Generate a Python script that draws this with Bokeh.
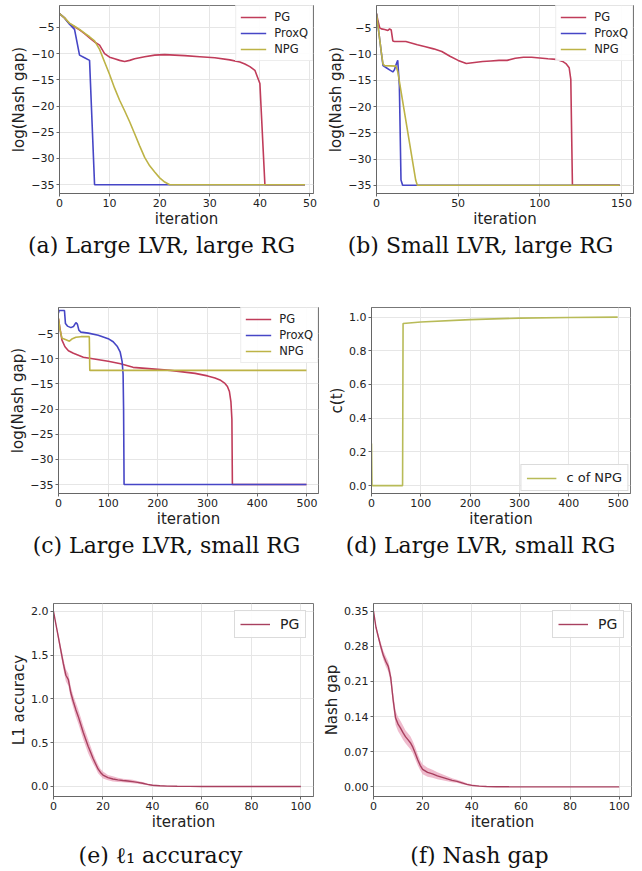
from bokeh.plotting import figure
from bokeh.layouts import column, row
from bokeh.models import Range1d, FixedTicker, Label
from bokeh.embed import file_html
from bokeh.resources import INLINE

# ---------------- data ----------------
# (a) Large LVR, large RG
a_pg_x = [0, 1, 2, 3, 4, 5, 6, 7, 8, 9, 10, 11, 12, 13, 14, 15, 17, 19, 21, 23, 25, 28, 31, 34, 36, 37, 38, 39, 40, 41, 49]
a_pg_y = [-2.4, -3.2, -4.3, -4.9, -5.5, -6.2, -7.0, -7.8, -8.4, -10.0, -10.7, -11.0, -11.3, -11.5, -11.3, -11.0,
          -10.6, -10.3, -10.2, -10.3, -10.4, -10.6, -10.8, -11.2, -11.6, -12.0, -12.5, -13.2, -15.7, -35.0, -35.0]
a_proxq_x = [0, 1, 2, 3, 4, 5, 6, 7, 49]
a_proxq_y = [-2.4, -3.2, -4.4, -5.4, -10.3, -10.8, -11.3, -35.0, -35.0]
a_npg_x = [0, 1, 2, 3, 4, 5, 6, 7, 8, 9, 10, 11, 12, 13, 14, 15, 16, 17, 18, 19, 20, 21, 22, 49]
a_npg_y = [-2.4, -3.2, -4.2, -4.8, -5.4, -6.1, -6.8, -7.6, -9.2, -11.6, -14.0, -16.6, -18.9, -20.9, -23.0, -25.3,
           -27.6, -29.8, -31.4, -32.6, -33.7, -34.5, -35.0, -35.0]

# (b) Small LVR, large RG
b_pg_x = [0, 1, 2, 3, 5, 7, 8, 9, 10, 11, 18, 25, 30, 35, 40, 45, 50, 55, 60, 65, 70, 75, 80, 85, 90, 95, 100,
          105, 110, 114, 116, 118, 119, 120, 149]
b_pg_y = [-2.3, -3.8, -5.0, -5.2, -5.3, -5.5, -5.2, -5.4, -7.5, -7.6, -7.6, -8.2, -8.6, -9.0, -9.5, -10.4, -11.2,
          -11.8, -11.6, -11.4, -11.3, -11.2, -11.2, -10.8, -10.6, -10.6, -10.75, -10.9, -11.0, -11.4, -11.8, -12.6,
          -14.8, -35.0, -35.0]
b_proxq_x = [0, 1, 2, 3, 4, 6, 8, 10, 11, 12, 13, 14, 15, 16, 149]
b_proxq_y = [-2.3, -4.8, -7.3, -9.8, -12.2, -12.6, -13.0, -13.4, -13.0, -12.0, -11.2, -16.0, -34.0, -35.0, -35.0]
b_npg_x = [0, 1, 2, 3, 4, 5, 12, 13, 24, 25, 149]
b_npg_y = [-2.3, -4.8, -7.3, -9.8, -11.9, -12.2, -12.3, -13.3, -34.0, -35.0, -35.0]

# (c) Large LVR, small RG
c_pg_x = [0, 3, 7, 13, 20, 30, 50, 75, 100, 125, 150, 175, 200, 225, 250, 275, 300, 315, 325, 335, 340, 344,
          347, 349, 350, 499]
c_pg_y = [-2.0, -4.0, -6.3, -7.6, -8.4, -8.9, -9.7, -10.1, -10.5, -11.0, -11.7, -11.9, -12.1, -12.3, -12.6, -12.9,
          -13.4, -13.8, -14.2, -14.9, -15.5, -16.5, -18.5, -22.0, -35.0, -35.0]
c_proxq_x = [0, 1, 12, 14, 18, 25, 30, 35, 38, 41, 45, 60, 80, 100, 110, 118, 124, 128, 130, 131, 132, 499]
c_proxq_y = [-0.9, -0.4, -0.4, -3.0, -3.5, -3.8, -3.6, -2.8, -3.1, -4.3, -4.7, -4.9, -5.3, -6.0, -6.6, -7.5, -8.6,
             -10.5, -13.0, -20.0, -35.0, -35.0]
c_npg_x = [0, 3, 7, 10, 15, 22, 28, 35, 45, 62, 63, 499]
c_npg_y = [-2.0, -4.2, -5.9, -6.0, -6.2, -6.5, -6.0, -5.7, -5.6, -5.6, -12.3, -12.3]

# (d) c(t) of NPG
d_x = [0, 1, 63, 64, 100, 200, 300, 400, 499]
d_y = [0.25, 0.0, 0.0, 0.962, 0.971, 0.985, 0.994, 0.998, 1.0]

# (e) l1 accuracy and (f) Nash gap of PG (mean and spread)
ef_x = [0, 1, 2, 3, 4, 5, 6, 7, 8, 9, 10, 11, 12, 13, 14, 15, 16, 17, 18, 19, 20, 22, 24, 26, 28, 30, 32, 34,
        36, 38, 40, 43, 46, 50, 55, 60, 70, 80, 90, 100]
e_mean = [2.0, 1.85, 1.70, 1.55, 1.40, 1.27, 1.22, 1.07, 0.97, 0.88, 0.80, 0.71, 0.62, 0.54, 0.46, 0.39, 0.32,
          0.26, 0.20, 0.16, 0.13, 0.10, 0.085, 0.075, 0.068, 0.062, 0.055, 0.047, 0.036, 0.024, 0.013, 0.007,
          0.004, 0.002, 0.001, 0.0, 0.0, 0.0, 0.0, 0.0]
e_spread = [0.0, 0.02, 0.04, 0.05, 0.06, 0.07, 0.07, 0.07, 0.07, 0.08, 0.08, 0.08, 0.08, 0.08, 0.08, 0.07, 0.06,
            0.05, 0.05, 0.04, 0.04, 0.03, 0.03, 0.025, 0.02, 0.02, 0.02, 0.015, 0.015, 0.01, 0.01, 0.006, 0.004,
            0.002, 0.001, 0.0, 0.0, 0.0, 0.0, 0.0]
f_mean = [0.350, 0.318, 0.298, 0.279, 0.262, 0.250, 0.240, 0.218, 0.173, 0.137, 0.125, 0.117, 0.108, 0.100,
          0.094, 0.088, 0.079, 0.067, 0.054, 0.043, 0.035, 0.029, 0.026, 0.022, 0.019, 0.016, 0.013, 0.011, 0.008,
          0.005, 0.003, 0.0015, 0.0008, 0.0003, 0.0001, 0.0, 0.0, 0.0, 0.0, 0.0]
f_spread = [0.0, 0.004, 0.006, 0.008, 0.009, 0.01, 0.01, 0.012, 0.014, 0.014, 0.014, 0.014, 0.014, 0.013, 0.013,
            0.013, 0.012, 0.012, 0.011, 0.01, 0.01, 0.009, 0.008, 0.007, 0.006, 0.005, 0.004, 0.003, 0.003, 0.002,
            0.002, 0.001, 0.001, 0.0005, 0.0, 0.0, 0.0, 0.0, 0.0, 0.0]

# ticks
log_ticks = [-35, -30, -25, -20, -15, -10, -5]
log_labels = ["\u221235", "\u221230", "\u221225", "\u221220", "\u221215", "\u221210", "\u22125"]
a_xticks = [0, 10, 20, 30, 40, 50]
b_xticks = [0, 50, 100, 150]
cd_xticks = [0, 100, 200, 300, 400, 500]
ef_xticks = [0, 20, 40, 60, 80, 100]
d_yticks = [0.0, 0.2, 0.4, 0.6, 0.8, 1.0]
d_ylabels = ["0.0", "0.2", "0.4", "0.6", "0.8", "1.0"]
e_yticks = [0.0, 0.5, 1.0, 1.5, 2.0]
e_ylabels = ["0.0", "0.5", "1.0", "1.5", "2.0"]
f_yticks = [0.0, 0.07, 0.14, 0.21, 0.28, 0.35]
f_ylabels = ["0.00", "0.07", "0.14", "0.21", "0.28", "0.35"]

captions = ["(a) Large LVR, large RG", "(b) Small LVR, large RG", "(c) Large LVR, small RG",
            "(d) Large LVR, small RG", "(e) \u2113\u2081 accuracy", "(f) Nash gap"]

PG_COLOR = "#c03c5a"
PROXQ_COLOR = "#4646c6"
NPG_COLOR = "#bdb346"
C_COLOR = "#b8bb58"
MEAN_COLOR = "#a8405f"
BAND_COLOR = "#eaa4bc"

W = 320


def make_fig(h, left, right, top, bottom, xr, yr):
    return figure(width=W, height=h, min_border_left=left, min_border_right=right,
                  min_border_top=top, min_border_bottom=bottom,
                  x_range=Range1d(*xr), y_range=Range1d(*yr),
                  output_backend="svg", toolbar_location=None, title=None)


def style(p, xticks, yticks, ylabels, ylabel):
    p.xaxis.ticker = FixedTicker(ticks=xticks)
    p.yaxis.ticker = FixedTicker(ticks=yticks)
    p.xaxis.major_label_overrides = {t: str(t) for t in xticks}
    p.yaxis.major_label_overrides = dict(zip(yticks, ylabels))
    p.xaxis.axis_label = "iteration"
    p.yaxis.axis_label = ylabel
    for ax in (p.xaxis[0], p.yaxis[0]):
        ax.axis_line_color = "#666666"
        ax.major_tick_line_color = "#666666"
        ax.major_tick_out = 3
        ax.major_tick_in = 0
        ax.minor_tick_line_color = None
        ax.major_label_text_font = "DejaVu Sans"
        ax.major_label_text_font_size = "11px"
        ax.major_label_text_color = "#222222"
        ax.major_label_standoff = 2
        ax.axis_label_text_font = "DejaVu Sans"
        ax.axis_label_text_font_size = "15px"
        ax.axis_label_text_font_style = "normal"
        ax.axis_label_text_color = "#222222"
        ax.axis_label_standoff = 0
    p.xgrid.grid_line_color = "#e6e6e6"
    p.ygrid.grid_line_color = "#e6e6e6"
    p.outline_line_color = "#777777"


def style_legend(p, loc, size, glyph_w, margin, padding, standoff, border_alpha):
    lg = p.legend[0]
    lg.location = loc
    lg.margin = margin
    lg.padding = padding
    lg.spacing = 2
    lg.glyph_width = glyph_w
    lg.glyph_height = 14
    lg.label_height = 14
    lg.label_standoff = standoff
    lg.label_text_font = "DejaVu Sans"
    lg.label_text_font_size = size
    lg.label_text_color = "#222222"
    lg.border_line_color = "#cccccc"
    lg.border_line_alpha = border_alpha
    lg.background_fill_alpha = 0.9


def caption_fig(h, text, cx, cy):
    c = figure(width=W, height=h, x_range=Range1d(0, W), y_range=Range1d(0, h),
               x_axis_type=None, y_axis_type=None, min_border=0,
               output_backend="svg", toolbar_location=None, title=None)
    c.outline_line_color = None
    c.add_layout(Label(x=cx, y=cy, x_units="screen", y_units="screen", text=text,
                       text_align="center", text_baseline="middle",
                       text_font="DejaVu Serif", text_font_size="22px", text_color="#111111"))
    return c


LW = 1.6

# (a)
pa = make_fig(231, 59, 7, 1, 38, (0, 50.7), (-36.68, -0.84))
style(pa, a_xticks, log_ticks, log_labels, "log(Nash gap)")
pa.line(a_pg_x, a_pg_y, color=PG_COLOR, line_width=LW, legend_label="PG")
pa.line(a_proxq_x, a_proxq_y, color=PROXQ_COLOR, line_width=LW, legend_label="ProxQ")
pa.line(a_npg_x, a_npg_y, color=NPG_COLOR, line_width=LW, legend_label="NPG")
style_legend(pa, "top_right", "11.5px", 26, 0, 4, 8, 0.35)

# (b)
pb = make_fig(231, 56, 7, 5, 35, (0, 157.4), (-36.56, -0.74))
style(pb, b_xticks, log_ticks, log_labels, "log(Nash gap)")
pb.line(b_pg_x, b_pg_y, color=PG_COLOR, line_width=LW, legend_label="PG")
pb.line(b_proxq_x, b_proxq_y, color=PROXQ_COLOR, line_width=LW, legend_label="ProxQ")
pb.line(b_npg_x, b_npg_y, color=NPG_COLOR, line_width=LW, legend_label="NPG")
style_legend(pb, "top_right", "11.5px", 26, 0, 4, 8, 0.35)

# (c)
pc = make_fig(240, 58, 2, 17, 36, (0, 523.3), (-36.78, 0.2))
style(pc, cd_xticks, log_ticks, log_labels, "log(Nash gap)")
pc.line(c_pg_x, c_pg_y, color=PG_COLOR, line_width=LW, legend_label="PG")
pc.line(c_proxq_x, c_proxq_y, color=PROXQ_COLOR, line_width=LW, legend_label="ProxQ")
pc.line(c_npg_x, c_npg_y, color=NPG_COLOR, line_width=LW, legend_label="NPG")
style_legend(pc, "top_right", "11.5px", 26, 0, 4, 8, 0.35)

# (d)
pd = make_fig(240, 51, 10, 10, 36, (0, 525), (-0.047, 1.057))
style(pd, cd_xticks, d_yticks, d_ylabels, "c(t)")
pd.line(d_x, d_y, color=C_COLOR, line_width=LW, legend_label="c of NPG")
style_legend(pd, "bottom_right", "13px", 30, 2, 5, 10, 0.7)

# (e)
e_lo = [m - s for m, s in zip(e_mean, e_spread)]
e_hi = [m + s for m, s in zip(e_mean, e_spread)]
pe = make_fig(253, 53, 7, 23, 36, (0, 105.1), (-0.115, 2.09))
style(pe, ef_xticks, e_yticks, e_ylabels, "L1 accuracy")
pe.varea(x=ef_x, y1=e_lo, y2=e_hi, fill_color=BAND_COLOR, fill_alpha=0.75)
pe.line(ef_x, e_mean, color=MEAN_COLOR, line_width=1.4, legend_label="PG")
style_legend(pe, "top_right", "14px", 30, 7, 5, 10, 0.7)

# (f)
f_lo = [m - s for m, s in zip(f_mean, f_spread)]
f_hi = [m + s for m, s in zip(f_mean, f_spread)]
pf = make_fig(253, 51, 9, 23, 36, (0, 105), (-0.0192, 0.3653))
style(pf, ef_xticks, f_yticks, f_ylabels, "Nash gap")
pf.varea(x=ef_x, y1=f_lo, y2=f_hi, fill_color=BAND_COLOR, fill_alpha=0.75)
pf.line(ef_x, f_mean, color=MEAN_COLOR, line_width=1.4, legend_label="PG")
style_legend(pf, "top_right", "14px", 30, 7, 5, 10, 0.7)

# captions
ca = caption_fig(59, captions[0], 161, 45)
cb = caption_fig(59, captions[1], 160, 45)
cc = caption_fig(50, captions[2], 166, 35)
cd = caption_fig(50, captions[3], 160, 35)
ce = caption_fig(35, captions[4], 160, 13)
cf = caption_fig(35, captions[5], 159, 13)

layout = column(row(pa, pb), row(ca, cb), row(pc, pd), row(cc, cd), row(pe, pf), row(ce, cf))

with open("out.html", "w") as fh:
    fh.write(file_html(layout, INLINE))
